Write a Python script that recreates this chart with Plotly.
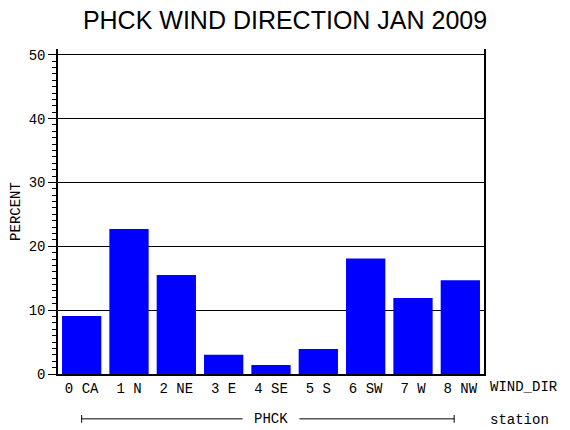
import plotly.graph_objects as go

# wind direction categories and percent of observations
directions = ["0 CA", "1 N", "2 NE", "3 E", "4 SE", "5 S", "6 SW", "7 W", "8 NW"]
percent = [9.1, 22.7, 15.5, 3.0, 1.4, 3.9, 18.1, 11.9, 14.7]
y_ticks = [0, 10, 20, 30, 40, 50]
station = "PHCK"

mono = "Liberation Mono"
fsize = 14

fig = go.Figure()

fig.add_trace(go.Bar(
    x=directions,
    y=percent,
    marker=dict(color="#0000ff", line_width=0),
))

fig.update_layout(
    width=570,
    height=430,
    margin=dict(l=58, r=86, t=49, b=56, autoexpand=False),
    plot_bgcolor="white",
    paper_bgcolor="white",
    showlegend=False,
    bargap=0.17,
    title=dict(
        text="PHCK WIND DIRECTION JAN 2009",
        x=0.5, xanchor="center",
        y=0.952, yanchor="middle",
        font=dict(family="Liberation Sans", size=25, color="black"),
    ),
)

fig.update_xaxes(
    type="category",
    range=[-0.5, 8.5],
    automargin=False,
    showline=True, linecolor="black", linewidth=1.5,
    mirror=False,
    showgrid=False,
    ticks="",
    ticklabelstandoff=0,
    tickfont=dict(family=mono, size=fsize, color="black"),
)

fig.update_yaxes(
    range=[0, 50.9],
    tickvals=y_ticks,
    automargin=False,
    showline=True, linecolor="black", linewidth=1.5,
    mirror=True,
    showgrid=True, gridcolor="black", gridwidth=1,
    zeroline=False,
    ticks="outside", ticklen=8, tickcolor="black",
    tickfont=dict(family=mono, size=fsize, color="black"),
    minor=dict(dtick=1, ticks="outside", ticklen=4, tickcolor="black", showgrid=False),
    title=dict(text="PERCENT", font=dict(family=mono, size=fsize, color="black"), standoff=5),
)

# right-hand axis captions
fig.add_annotation(x=1.01, y=-0.04, xref="paper", yref="paper", text="WIND_DIR",
                   showarrow=False, xanchor="left", yanchor="middle",
                   font=dict(family=mono, size=fsize, color="black"))
fig.add_annotation(x=1.01, y=-0.142, xref="paper", yref="paper", text="station",
                   showarrow=False, xanchor="left", yanchor="middle",
                   font=dict(family=mono, size=fsize, color="black"))

# station group bracket
br_y = -0.138
fig.add_annotation(x=4, y=br_y, xref="x", yref="paper", text=station,
                   showarrow=False, xanchor="center", yanchor="middle",
                   font=dict(family=mono, size=fsize, color="black"))
line = dict(color="black", width=1)
fig.add_shape(type="line", xref="x", yref="paper", x0=0, x1=3.4, y0=br_y, y1=br_y, line=line)
fig.add_shape(type="line", xref="x", yref="paper", x0=4.6, x1=7.87, y0=br_y, y1=br_y, line=line)
fig.add_shape(type="line", xref="x", yref="paper", x0=0, x1=0, y0=br_y - 0.012, y1=br_y + 0.012, line=line)
fig.add_shape(type="line", xref="x", yref="paper", x0=7.87, x1=7.87, y0=br_y - 0.012, y1=br_y + 0.012, line=line)

# drop the browser's default page margin so the figure sits at the window corner
fig.write_html("out.html", config={"displayModeBar": False},
               post_script="document.body.style.margin='0';")
